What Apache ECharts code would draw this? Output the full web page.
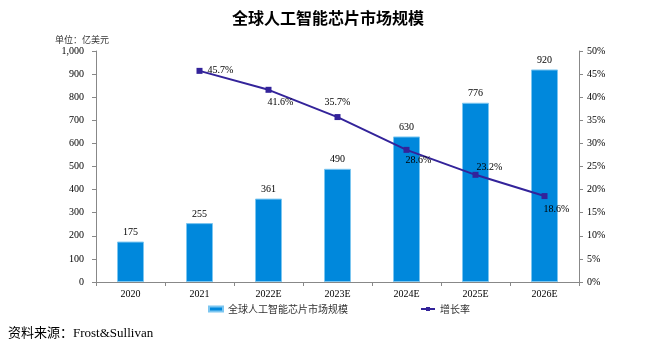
<!DOCTYPE html>
<html><head><meta charset="utf-8">
<script src="https://cdn.jsdelivr.net/npm/echarts@6/dist/echarts.min.js"></script>
<style>html,body{margin:0;padding:0;background:#fff}#c{width:656px;height:343px}</style>
</head><body><div id="c"></div>
<script>
const categories = ['2020','2021','2022E','2023E','2024E','2025E','2026E'];
const marketSize = [175,255,361,490,630,776,920];
const growthRate = [null,45.7,41.6,35.7,28.6,23.2,18.6];
const growthLabels = ['', '45.7%','41.6%','35.7%','28.6%','23.2%','18.6%'];
const labelPos = [null, ['right',[0,0]], ['bottom',[12,0]], ['top',[0,-2]], ['bottom',[12,-2]], ['top',[14,6]], ['bottom',[12,0]]];

const serif = '"Liberation Serif","DejaVu Serif",serif';
const cjk = '"Noto Sans CJK SC",sans-serif';
const chart = echarts.init(document.getElementById('c'));
chart.setOption({
  animation:false,
  title:[{text:'全球人工智能芯片市场规模',left:'center',top:5,textStyle:{fontFamily:cjk,fontSize:16,fontWeight:'bold',color:'#000'}},
         {text:'单位：亿美元',left:50,top:30,textStyle:{fontFamily:'"Noto Sans CJK SC",sans-serif',fontSize:9,fontWeight:'normal',color:'#333'}},
         {text:'资料来源：Frost&Sullivan',left:3,top:322,textStyle:{fontFamily:'"Liberation Serif","Noto Sans CJK SC",serif',fontSize:13,fontWeight:'normal',color:'#000'}}],
  grid:{left:96,right:77,top:51,bottom:61},
  legend:{top:299,left:203,itemGap:72,itemWidth:14,itemHeight:5,textStyle:{fontFamily:cjk,fontSize:10,color:'#333'},
    data:[{name:'全球人工智能芯片市场规模',icon:'rect'},{name:'增长率'}]},
  xAxis:{type:'category',data:categories,axisLine:{lineStyle:{color:'#888'}},axisTick:{show:true,length:4,lineStyle:{color:'#888'}},
    axisLabel:{fontFamily:serif,fontSize:10,color:'#000',margin:7}},
  yAxis:[{type:'value',min:0,max:1000,interval:100,splitLine:{show:false},axisLine:{show:true,lineStyle:{color:'#888'}},
    axisTick:{show:true,inside:false,length:4,lineStyle:{color:'#888'}},
    axisLabel:{fontFamily:serif,fontSize:10,color:'#000',margin:12,formatter:v=>v.toLocaleString('en-US')}},
   {type:'value',min:0,max:50,interval:5,splitLine:{show:false},axisLine:{show:true,lineStyle:{color:'#888'}},
    axisTick:{show:true,length:4,lineStyle:{color:'#888'}},
    axisLabel:{fontFamily:serif,fontSize:10,color:'#000',margin:8,formatter:'{value}%'}}],
  series:[{name:'全球人工智能芯片市场规模',type:'bar',data:marketSize,barWidth:27,
    itemStyle:{color:'#0088dc',borderColor:'#7cc6f0',borderWidth:1},
    label:{show:true,position:'top',distance:4,fontFamily:serif,fontSize:10,color:'#000'}},
   {name:'增长率',type:'line',yAxisIndex:1,data:growthRate.map((v,i)=>v==null?null:{value:v,label:{position:labelPos[i][0],offset:labelPos[i][1]}}),
    symbol:'rect',symbolSize:6,lineStyle:{color:'#33239a',width:2},itemStyle:{color:'#33239a'},
    label:{show:true,fontFamily:serif,fontSize:10,color:'#000',formatter:p=>growthLabels[p.dataIndex]}}]
});
</script></body></html>
